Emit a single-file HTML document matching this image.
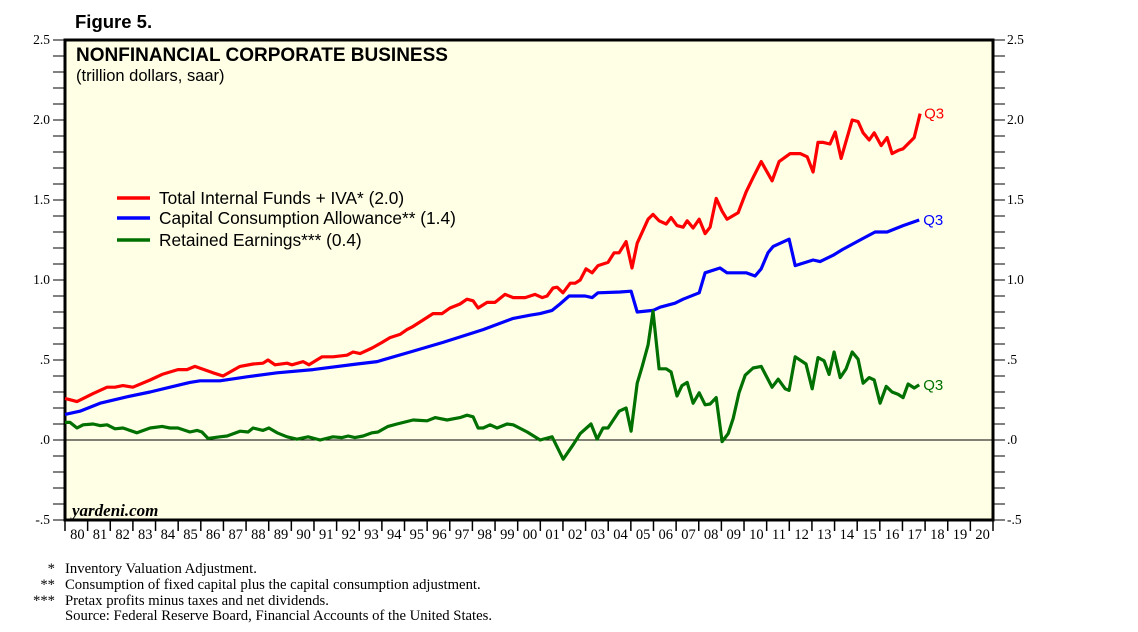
<!DOCTYPE html>
<html><head><meta charset="utf-8">
<style>
body{margin:0;background:#fff;width:1138px;height:632px;overflow:hidden}
svg{display:block}
</style></head>
<body>
<svg id="chart" width="1138" height="632" xmlns="http://www.w3.org/2000/svg">
<text x="75" y="28" font-family="Liberation Sans, sans-serif" font-weight="bold" font-size="18.5">Figure 5.</text>
<rect x="65" y="40" width="928" height="480" fill="#ffffe6" stroke="#000" stroke-width="3"/>
<text x="76" y="61" font-family="Liberation Sans, sans-serif" font-weight="bold" font-size="19">NONFINANCIAL CORPORATE BUSINESS</text>
<text x="76" y="81" font-family="Liberation Sans, sans-serif" font-size="16.5">(trillion dollars, saar)</text>
<g id="axes"></g>
<g id="series"></g>
<g font-family="Liberation Sans, sans-serif" font-size="17.3">
<line x1="117" y1="198" x2="150" y2="198" stroke="#ff0000" stroke-width="3.5"/>
<text x="159" y="204">Total Internal Funds + IVA* (2.0)</text>
<line x1="117" y1="218" x2="150" y2="218" stroke="#0000ff" stroke-width="3.5"/>
<text x="159" y="224">Capital Consumption Allowance** (1.4)</text>
<line x1="117" y1="240" x2="150" y2="240" stroke="#007000" stroke-width="3.5"/>
<text x="159" y="246">Retained Earnings*** (0.4)</text>
</g>
<text x="72" y="516" font-family="Liberation Serif, serif" font-style="italic" font-weight="bold" font-size="17">yardeni.com</text>
<g font-family="Liberation Serif, serif" font-size="14.7">
<text x="55" y="573" text-anchor="end">*</text><text x="65" y="573">Inventory Valuation Adjustment.</text>
<text x="55" y="589" text-anchor="end">**</text><text x="65" y="589">Consumption of fixed capital plus the capital consumption adjustment.</text>
<text x="55" y="605" text-anchor="end">***</text><text x="65" y="605">Pretax profits minus taxes and net dividends.</text>
<text x="65" y="620">Source: Federal Reserve Board, Financial Accounts of the United States.</text>
</g>
</svg>
<script>
const totalDates=[1980.00,1980.53,1981.24,1981.86,1982.21,1982.56,1983.00,1983.76,1984.29,1984.99,1985.39,1985.74,1986.54,1986.98,1987.73,1988.31,1988.75,1988.97,1989.28,1989.81,1990.03,1990.52,1990.78,1991.36,1991.84,1992.46,1992.73,1993.04,1993.57,1994.01,1994.36,1994.80,1995.11,1995.38,1995.82,1996.26,1996.66,1997.01,1997.45,1997.76,1998.03,1998.25,1998.65,1999.00,1999.44,1999.80,2000.33,2000.77,2001.08,2001.30,2001.56,2001.74,2002.00,2002.32,2002.54,2002.76,2003.02,2003.29,2003.55,2003.99,2004.26,2004.48,2004.79,2005.05,2005.28,2005.76,2005.98,2006.25,2006.56,2006.78,2007.04,2007.31,2007.49,2007.75,2008.02,2008.28,2008.50,2008.77,2009.03,2009.25,2009.74,2010.09,2010.40,2010.76,2011.24,2011.55,2012.04,2012.48,2012.79,2013.05,2013.27,2013.50,2013.80,2014.03,2014.29,2014.78,2015.04,2015.26,2015.53,2015.75,2016.06,2016.32,2016.54,2016.81,2017.03,2017.52,2017.78];
const totalValues=[0.26,0.24,0.29,0.33,0.33,0.34,0.33,0.375,0.41,0.44,0.44,0.46,0.42,0.40,0.46,0.475,0.48,0.50,0.47,0.48,0.47,0.49,0.47,0.52,0.52,0.53,0.55,0.54,0.575,0.61,0.64,0.66,0.69,0.71,0.75,0.79,0.79,0.825,0.85,0.88,0.87,0.825,0.86,0.86,0.91,0.89,0.89,0.91,0.89,0.90,0.95,0.955,0.92,0.98,0.98,1.00,1.07,1.045,1.09,1.11,1.17,1.17,1.24,1.075,1.23,1.38,1.41,1.37,1.35,1.39,1.34,1.33,1.37,1.325,1.38,1.29,1.33,1.51,1.43,1.38,1.42,1.55,1.64,1.74,1.62,1.74,1.79,1.79,1.77,1.675,1.86,1.86,1.85,1.925,1.76,2.00,1.99,1.92,1.875,1.92,1.84,1.89,1.79,1.81,1.82,1.89,2.04];
const ccaDates=[1980.00,1980.66,1981.55,1982.74,1983.76,1984.64,1985.52,1985.97,1986.85,1988.04,1989.37,1990.96,1992.90,1993.79,1995.25,1996.70,1998.47,1999.80,2000.55,2000.99,2001.52,2001.87,2002.27,2002.98,2003.29,2003.55,2004.52,2005.01,2005.28,2005.98,2006.29,2006.95,2007.31,2008.02,2008.28,2008.94,2009.25,2010.09,2010.49,2010.76,2011.06,2011.29,2011.99,2012.26,2013.05,2013.36,2013.94,2014.34,2015.26,2015.79,2016.32,2017.03,2017.74];
const ccaValues=[0.16,0.18,0.23,0.27,0.30,0.33,0.36,0.37,0.37,0.395,0.42,0.44,0.475,0.49,0.55,0.61,0.69,0.76,0.78,0.79,0.81,0.85,0.90,0.90,0.89,0.92,0.925,0.93,0.80,0.81,0.83,0.855,0.88,0.92,1.045,1.075,1.045,1.045,1.025,1.07,1.17,1.21,1.255,1.09,1.125,1.115,1.155,1.19,1.26,1.30,1.30,1.34,1.375];
const reDates=[1980.00,1980.22,1980.53,1980.80,1981.24,1981.55,1981.86,1982.21,1982.56,1983.18,1983.76,1984.29,1984.64,1984.99,1985.52,1985.83,1986.05,1986.32,1986.85,1987.16,1987.73,1988.09,1988.31,1988.75,1989.01,1989.37,1989.81,1990.25,1990.74,1991.27,1991.84,1992.24,1992.51,1992.81,1993.17,1993.57,1993.83,1994.27,1994.67,1995.38,1996.00,1996.35,1996.88,1997.45,1997.76,1998.03,1998.25,1998.47,1998.78,1999.09,1999.53,1999.80,2000.42,2000.99,2001.52,2002.01,2002.45,2002.76,2003.24,2003.51,2003.77,2003.99,2004.48,2004.79,2005.01,2005.28,2005.50,2005.76,2005.98,2006.25,2006.56,2006.78,2007.04,2007.26,2007.49,2007.75,2008.02,2008.28,2008.50,2008.77,2009.03,2009.30,2009.52,2009.78,2010.05,2010.40,2010.76,2011.24,2011.51,2011.82,2011.99,2012.26,2012.74,2013.01,2013.27,2013.54,2013.76,2013.98,2014.25,2014.51,2014.78,2015.04,2015.26,2015.53,2015.75,2016.01,2016.28,2016.54,2016.81,2017.03,2017.25,2017.52,2017.74];
const reValues=[0.11,0.11,0.075,0.095,0.10,0.09,0.095,0.07,0.075,0.045,0.075,0.085,0.075,0.075,0.05,0.06,0.05,0.01,0.02,0.025,0.055,0.05,0.075,0.06,0.075,0.045,0.02,0.005,0.02,0.0,0.02,0.015,0.025,0.015,0.025,0.045,0.05,0.085,0.10,0.125,0.12,0.14,0.125,0.14,0.155,0.145,0.075,0.075,0.095,0.075,0.10,0.095,0.05,0.0,0.02,-0.12,-0.03,0.04,0.10,0.005,0.075,0.075,0.18,0.20,0.055,0.355,0.46,0.595,0.805,0.445,0.445,0.425,0.275,0.34,0.36,0.23,0.295,0.22,0.225,0.265,-0.01,0.04,0.135,0.295,0.405,0.45,0.46,0.33,0.38,0.32,0.31,0.52,0.475,0.32,0.515,0.495,0.41,0.55,0.39,0.445,0.55,0.505,0.355,0.39,0.375,0.23,0.335,0.30,0.285,0.265,0.35,0.325,0.345];
const yearLabels=['80','81','82','83','84','85','86','87','88','89','90','91','92','93','94','95','96','97','98','99','00','01','02','03','04','05','06','07','08','09','10','11','12','13','14','15','16','17','18','19','20'];
const yTickValues=[2.5,2.0,1.5,1.0,0.5,0.0,-0.5];
const yTickLabels=['2.5','2.0','1.5','1.0','.5','.0','-.5'];

const NS='http://www.w3.org/2000/svg';
const X0=65,X1=993,Y0=40,Y1=520,YMIN=-0.5,YMAX=2.5,T0=1980,T1=2021;
const xs=t=>X0+(t-T0)/(T1-T0)*(X1-X0);
const ys=v=>Y1-(v-YMIN)/(YMAX-YMIN)*(Y1-Y0);
function mk(tag,attrs,parent){const e=document.createElementNS(NS,tag);for(const k in attrs)e.setAttribute(k,attrs[k]);parent.appendChild(e);return e;}
const axes=document.getElementById('axes'),series=document.getElementById('series');
for(let v=YMIN;v<=YMAX+1e-9;v+=0.1){
  const y=ys(v);
  const l=mk('line',{x1:X0-12,x2:X0,y1:y,y2:y,stroke:'#000','stroke-width':1},axes);
  
  
  const r=mk('line',{x1:X1,x2:X1+12,y1:y,y2:y,stroke:'#000','stroke-width':1},axes);
  
  
}
yTickValues.forEach((v,i)=>{
  const y=ys(v);
  const a=mk('text',{x:50,y:y+4,'text-anchor':'end','font-family':'Liberation Serif, serif','font-size':13.5},axes);
  a.textContent=yTickLabels[i];
  
  
  const b=mk('text',{x:1007,y:y+4,'font-family':'Liberation Serif, serif','font-size':13.5},axes);
  b.textContent=yTickLabels[i];
  
  
});
yearLabels.forEach((lab,i)=>{
  const x=xs(T0+i);
  const t=mk('line',{x1:x,x2:x,y1:Y1,y2:Y1+11,stroke:'#000','stroke-width':1.5},axes);
  
  
  const tx=mk('text',{x:xs(T0+i+0.5)+1,y:539,'text-anchor':'middle','font-family':'Liberation Serif, serif','font-size':14.5},axes);
  tx.textContent=lab;
  
  
});
const lx=mk('line',{x1:xs(T1),x2:xs(T1),y1:Y1,y2:Y1+11,stroke:'#000','stroke-width':1.5},axes);


const zl=mk('line',{x1:X0,x2:X1,y1:ys(0),y2:ys(0),stroke:'#000','stroke-width':1},axes);


function drawLine(dates,vals,color,name){
  const pts=dates.map((d,i)=>xs(d).toFixed(1)+','+ys(vals[i]).toFixed(1)).join(' ');
  const p=mk('polyline',{points:pts,fill:'none',stroke:color,'stroke-width':3.2,'stroke-linejoin':'round'},series);
  
  
  const n=dates.length-1;
  const q=mk('text',{x:xs(dates[n])+4,y:ys(vals[n])+5,fill:color,'font-family':'Liberation Sans, sans-serif','font-size':15},series);
  q.textContent='Q3';
  
  
}
drawLine(ccaDates,ccaValues,'#0000ff','capital-consumption-line');
drawLine(reDates,reValues,'#007000','retained-earnings-line');
drawLine(totalDates,totalValues,'#ff0000','total-internal-funds-line');
</script>
</body></html>
